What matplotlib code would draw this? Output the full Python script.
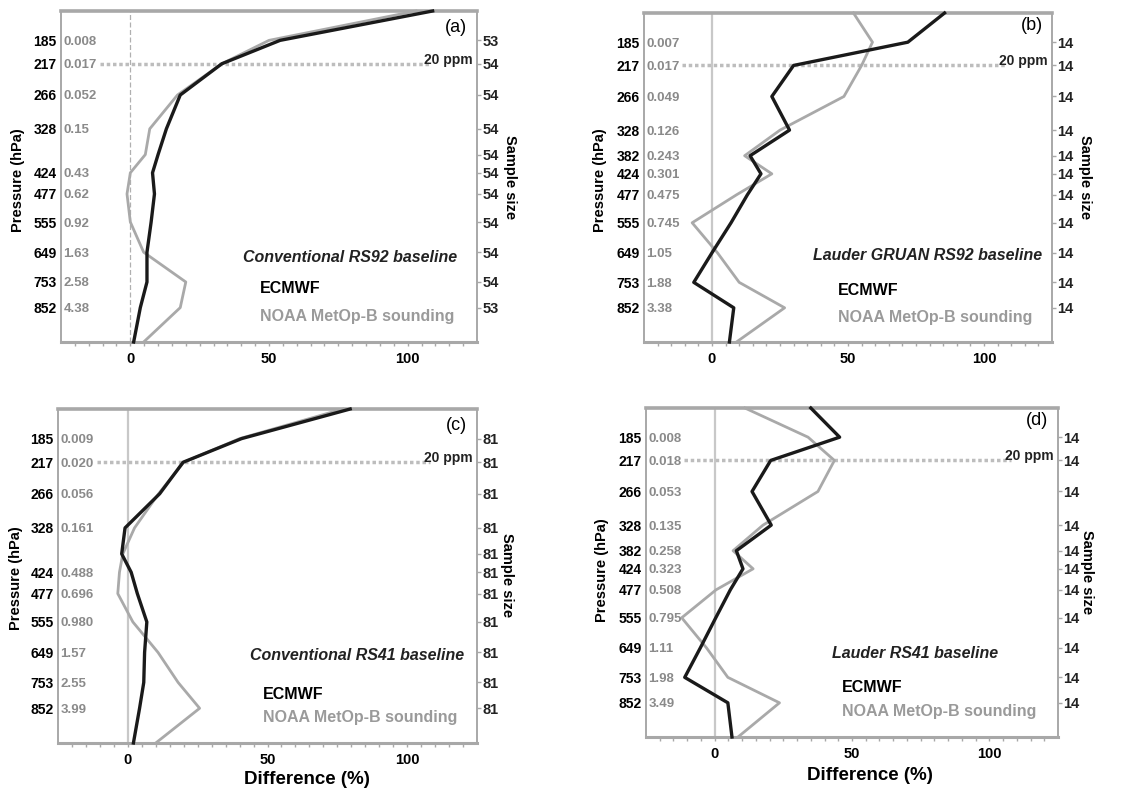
import numpy as np
import matplotlib.pyplot as plt
from matplotlib import transforms

plt.rcParams['font.family'] = ['Liberation Sans', 'DejaVu Sans']

# pressure levels (hPa) of the profile points, top of plot to surface
levels = [150, 185, 217, 266, 328, 382, 424, 477, 555, 649, 753, 852, 1000]
# levels that carry labels
label_levels = [185, 217, 266, 328, 382, 424, 477, 555, 649, 753, 852]

# (a) Conventional RS92
ecmwf_a = [109, 54, 33, 18, 13, 10, 8, 8.7, 7.5, 6, 6, 3.6, 1.2]
noaa_a = [103, 50, 33, 17, 7, 5.4, 0, -1.2, 0, 4.8, 20, 18, 4.8]
wv_a = ['0.008', '0.017', '0.052', '0.15', '', '0.43', '0.62', '0.92', '1.63', '2.58', '4.38']
n_a = ['53', '54', '54', '54', '54', '54', '54', '54', '54', '54', '53']
plab_a = ['185', '217', '266', '328', '', '424', '477', '555', '649', '753', '852']

# (b) Lauder GRUAN RS92
ecmwf_b = [85.5, 72, 30, 22, 28.5, 14, 18, 13, 7, 0, -6.7, 8, 6.4]
noaa_b = [52, 59, 55, 48.5, 25, 12, 22, 9, -7.3, 2, 10, 26.7, 9]
wv_b = ['0.007', '0.017', '0.049', '0.126', '0.243', '0.301', '0.475', '0.745', '1.05', '1.88', '3.38']
n_b = ['14'] * 11
plab_b = ['185', '217', '266', '328', '382', '424', '477', '555', '649', '753', '852']

# (c) Conventional RS41
ecmwf_c = [79.6, 40.7, 19.8, 11.4, -1, -2.2, 1.2, 3.4, 6.8, 6, 5.7, 4.2, 2]
noaa_c = [77, 40, 20, 11, 2.4, -1.8, -3, -3.6, 1.8, 10.8, 18, 25.7, 10]
wv_c = ['0.009', '0.020', '0.056', '0.161', '', '0.488', '0.696', '0.980', '1.57', '2.55', '3.99']
n_c = ['81'] * 11
plab_c = plab_a

# (d) Lauder RS41
ecmwf_d = [35, 45.5, 20.4, 13.6, 20.6, 7.9, 10.3, 5.7, 0.4, -5.2, -10.9, 4.8, 6.3]
noaa_d = [11, 34, 43.6, 37.6, 17.6, 6.7, 14, 0.5, -12, -3, 4.8, 23.6, 8.5]
wv_d = ['0.008', '0.018', '0.053', '0.135', '0.258', '0.323', '0.508', '0.795', '1.11', '1.98', '3.49']
n_d = ['14'] * 11
plab_d = plab_b

ppm_level = 217

W, H = 1144, 791
fig = plt.figure(figsize=(W / 100, H / 100), dpi=100)

SPINE = '#a8a8a8'
GREY = '#a9a9a9'
NUMGREY = '#8a8a8a'
NARROW = ['Liberation Sans Narrow', 'Liberation Sans', 'DejaVu Sans']


def fwd(p):
    return np.power(np.clip(p, 1e-6, None), 0.25)


def inv(q):
    return np.power(q, 4.0)


def px_axes(l, t, r, b):
    return fig.add_axes([l / W, 1 - b / H, (r - l) / W, (b - t) / H])


def draw_panel(ax, ecmwf, noaa, wv, nsamp, plab, letter, title, tpos, lpos, dashed_zero):
    ax.set_yscale('function', functions=(fwd, inv))
    ax.set_xlim(-25, 125)
    ax.set_ylim(1000, 150)
    tr = transforms.blended_transform_factory(ax.transAxes, ax.transData)

    # zero line
    if dashed_zero:
        ax.axvline(0, color='#b0b0b0', lw=0.9, ls=(0, (4, 2)), zorder=1)
    else:
        ax.axvline(0, color='#c8c8c8', lw=1.6, zorder=1)

    # 20 ppm dotted line
    ax.plot([-11, 108], [ppm_level, ppm_level], color='#bdbdbd', lw=2.5, ls=(0, (1, 0.8)), zorder=2)
    ax.annotate('20 ppm', xy=(0.99, ppm_level), xycoords=tr, xytext=(0, 3), textcoords='offset points',
                ha='right', va='center', fontsize=10, fontweight='bold', color='#222222', family=NARROW)

    ax.plot(noaa, levels, color=GREY, lw=2.0, zorder=3, clip_on=False)
    ax.plot(ecmwf, levels, color='#1a1a1a', lw=2.4, zorder=4, clip_on=False)

    # spines
    for s in ['left', 'right', 'bottom']:
        ax.spines[s].set_color(SPINE)
        ax.spines[s].set_linewidth(1.4)
    ax.spines['top'].set_color(SPINE)
    ax.spines['top'].set_linewidth(2.6)
    ax.spines['bottom'].set_linewidth(2.2)

    # x ticks
    ax.set_xticks([0, 50, 100])
    ax.set_xticklabels(['0', '50', '100'], fontsize=10.5, fontweight='bold')
    ax.set_xticks(np.arange(-20, 125, 5), minor=True)
    ax.tick_params(axis='x', which='both', direction='out', length=3, width=1, color=SPINE, pad=4)

    # left pressure labels
    ax.set_yticks(label_levels)
    ax.set_yticklabels(plab, fontsize=10, fontweight='bold')
    ax.yaxis.set_minor_locator(plt.NullLocator())
    ax.tick_params(axis='y', which='both', length=0, pad=3)

    # water vapour values in grey
    for lev, s in zip(label_levels, wv):
        ax.text(0.006, lev, s, transform=tr, ha='left', va='center_baseline', fontsize=9.5,
                fontweight='bold', color=NUMGREY)

    # sample size on right
    ax2 = ax.twinx()
    ax2.set_yscale('function', functions=(fwd, inv))
    ax2.set_ylim(1000, 150)
    ax2.set_yticks(label_levels)
    ax2.set_yticklabels(nsamp, fontsize=10.5, fontweight='bold', color='#222222')
    ax2.yaxis.set_minor_locator(plt.NullLocator())
    ax2.tick_params(axis='y', which='both', length=3, width=1, color=SPINE, pad=1)
    for s in ax2.spines.values():
        s.set_visible(False)

    ax.text(0.95, lpos, letter, transform=ax.transAxes, ha='center', va='center', fontsize=13)
    ax.text(tpos[0], tpos[1], title, transform=ax.transAxes, ha='center', va='center',
            fontsize=11.5, style='italic', fontweight='bold', color='#222222')
    ax.text(tpos[2], tpos[3], 'ECMWF', transform=ax.transAxes, ha='left', va='center',
            fontsize=11.5, fontweight='bold', color='black')
    ax.text(tpos[2], tpos[4], 'NOAA MetOp-B sounding', transform=ax.transAxes, ha='left', va='center',
            fontsize=11.5, fontweight='bold', color='#9a9a9a')


ax_a = px_axes(61, 11, 477, 342)
draw_panel(ax_a, ecmwf_a, noaa_a, wv_a, n_a, plab_a, '(a)', 'Conventional RS92 baseline',
           (0.695, 0.254, 0.478, 0.163, 0.076), 0.95, True)

ax_b = px_axes(644, 13, 1052, 342)
draw_panel(ax_b, ecmwf_b, noaa_b, wv_b, n_b, plab_b, '(b)', 'Lauder GRUAN RS92 baseline',
           (0.696, 0.264, 0.475, 0.158, 0.073), 0.963, False)

ax_c = px_axes(58, 409, 477, 743)
draw_panel(ax_c, ecmwf_c, noaa_c, wv_c, n_c, plab_c, '(c)', 'Conventional RS41 baseline',
           (0.713, 0.263, 0.49, 0.144, 0.075), 0.952, False)

ax_d = px_axes(646, 408, 1058, 737)
draw_panel(ax_d, ecmwf_d, noaa_d, wv_d, n_d, plab_d, '(d)', 'Lauder RS41 baseline',
           (0.653, 0.255, 0.476, 0.149, 0.076), 0.963, False)

# axis titles placed in figure pixels
for x, y in [(18, 180), (600, 180), (16, 578), (602, 570)]:
    fig.text(x / W, 1 - y / H, 'Pressure (hPa)', rotation=90, ha='center', va='center',
             fontsize=10.5, fontweight='bold')
for x, y in [(510, 177), (1085, 177), (507, 575), (1087, 572)]:
    fig.text(x / W, 1 - y / H, 'Sample size', rotation=-90, ha='center', va='center',
             fontsize=10.5, fontweight='bold')
for x, y in [(307, 780), (870, 775)]:
    fig.text(x / W, 1 - y / H, 'Difference (%)', ha='center', va='center',
             fontsize=13.5, fontweight='bold')

fig.savefig('out.png', dpi=100)
